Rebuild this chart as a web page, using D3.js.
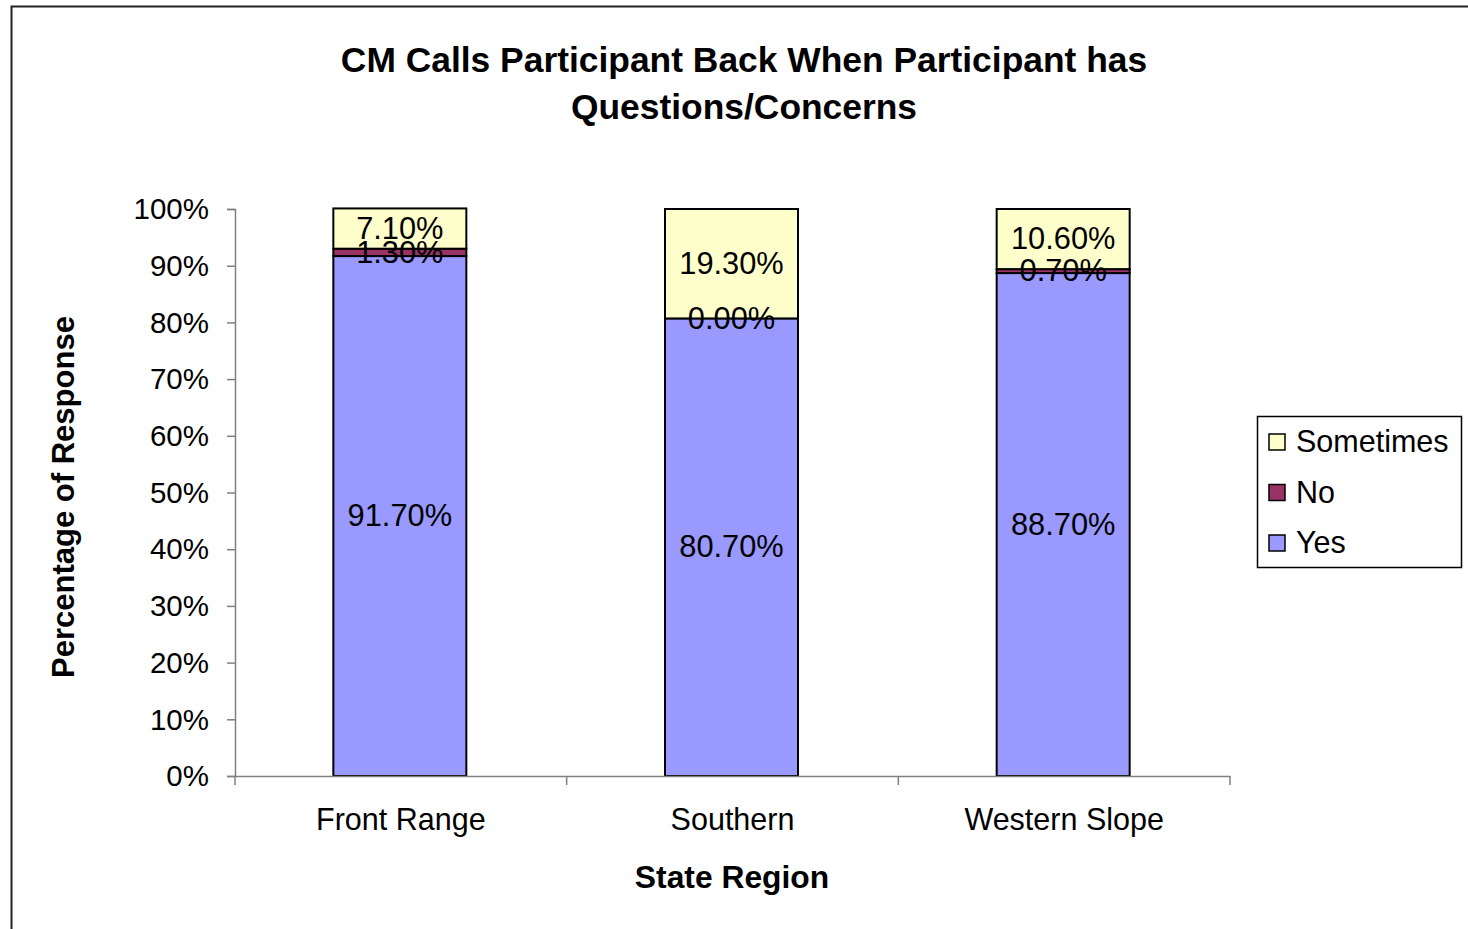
<!DOCTYPE html>
<meta charset="utf-8">
<script src="https://d3js.org/d3.v7.min.js"></script>
<style>
  body { margin: 0; background: #fff; }
  text { font-family: Arial, "Liberation Sans", sans-serif; }
</style>
<div id="chart"></div>
<script>

// data
var regions = ["Front Range", "Southern", "Western Slope"];
var series = ["Yes", "No", "Sometimes"];
var yesVals = [91.7, 80.7, 88.7];
var noVals = [1.3, 0.0, 0.7];
var sometimesVals = [7.1, 19.3, 10.6];
var yTicks = [0, 10, 20, 30, 40, 50, 60, 70, 80, 90, 100];

var colors = {
  "Yes": "#9999FF",
  "No": "#993366",
  "Sometimes": "#FFFFCC"
};

var W = 1468, H = 929;
var margin = {top: 209, left: 235, right: 238, bottom: 153};

var svg = d3.select("#chart").append("svg")
  .attr("width", W)
  .attr("height", H);

// outer frame (runs off the right and bottom)
svg.append("rect")
  .attr("x", 11.5).attr("y", 6.5)
  .attr("width", W + 20).attr("height", H + 20)
  .attr("fill", "none").attr("stroke", "#222").attr("stroke-width", 2);

var x = d3.scaleBand()
  .domain(regions)
  .range([margin.left, W - margin.right])
  .paddingInner(0).paddingOuter(0);

var y = d3.scaleLinear()
  .domain([0, 100])
  .range([H - margin.bottom, margin.top]);

// build table for stacking
var table = regions.map(function(r, i) {
  return {region: r, Yes: yesVals[i], No: noVals[i], Sometimes: sometimesVals[i]};
});
var stacked = d3.stack().keys(series)(table);

// title
svg.append("text")
  .attr("x", 744).attr("y", 72)
  .attr("text-anchor", "middle")
  .attr("font-size", 35.4).attr("font-weight", "bold")
  .text("CM Calls Participant Back When Participant has");
svg.append("text")
  .attr("x", 744).attr("y", 119)
  .attr("text-anchor", "middle")
  .attr("font-size", 35.4).attr("font-weight", "bold")
  .text("Questions/Concerns");

// y axis
var yAxis = svg.append("g")
  .attr("transform", "translate(" + margin.left + ",0)")
  .call(d3.axisLeft(y).tickValues(yTicks).tickSize(8).tickPadding(18)
    .tickFormat(function(d) { return d + "%"; }));
yAxis.select(".domain").attr("stroke", "#808080").attr("stroke-width", 1.5);
yAxis.selectAll(".tick line").attr("stroke", "#808080").attr("stroke-width", 1.5);
yAxis.selectAll(".tick text")
  .attr("font-size", 29.5).attr("fill", "#000")
  .attr("font-family", "Arial, 'Liberation Sans', sans-serif")
  .attr("dy", "0.33em");

// bars
var barW = 133;
var layers = svg.append("g").selectAll("g")
  .data(stacked)
  .join("g")
  .attr("fill", function(d) { return colors[d.key]; });

layers.selectAll("rect")
  .data(function(d) { return d; })
  .join("rect")
  .attr("x", function(d) { return x(d.data.region) + x.bandwidth() / 2 - barW / 2 - 1; })
  .attr("y", function(d) { return y(d[1]); })
  .attr("width", barW)
  .attr("height", function(d) { return y(d[0]) - y(d[1]); })
  .attr("stroke", "#000")
  .attr("stroke-width", 2);

// x axis
var xAxis = svg.append("g")
  .attr("transform", "translate(0," + (H - margin.bottom) + ")")
  .call(d3.axisBottom(x).tickSize(0).tickPadding(32));
xAxis.select(".domain").attr("stroke", "#808080").attr("stroke-width", 1.5);
xAxis.selectAll(".tick text")
  .attr("font-size", 30.5).attr("fill", "#000")
  .attr("font-family", "Arial, 'Liberation Sans', sans-serif");
// tick marks at category boundaries
var bounds = regions.map(function(r) { return x(r); }).concat([x.range()[1]]);
svg.append("g").selectAll("line")
  .data(bounds)
  .join("line")
  .attr("x1", function(d) { return d; }).attr("x2", function(d) { return d; })
  .attr("y1", H - margin.bottom).attr("y2", H - margin.bottom + 9)
  .attr("stroke", "#808080").attr("stroke-width", 1.5);

// data labels, drawn above every bar
var labelData = [];
stacked.forEach(function(s) {
  s.forEach(function(v) { labelData.push({key: s.key, v: v}); });
});
svg.append("g").selectAll("text")
  .data(labelData)
  .join("text")
  .attr("x", function(d) { return x(d.v.data.region) + x.bandwidth() / 2 - 1; })
  .attr("y", function(d) { return (y(d.v[0]) + y(d.v[1])) / 2; })
  .attr("dy", "0.33em")
  .attr("text-anchor", "middle")
  .attr("font-size", 30.8)
  .attr("fill", "#000")
  .text(function(d) { return d.v.data[d.key].toFixed(2) + "%"; });

// axis titles
svg.append("text")
  .attr("x", 732).attr("y", 888)
  .attr("text-anchor", "middle")
  .attr("font-size", 31.8).attr("font-weight", "bold")
  .text("State Region");

svg.append("text")
  .attr("transform", "translate(74,497) rotate(-90)")
  .attr("text-anchor", "middle")
  .attr("font-size", 31).attr("font-weight", "bold")
  .text("Percentage of Response");

// legend
var legend = svg.append("g");
legend.append("rect")
  .attr("x", 1257.5).attr("y", 416.5)
  .attr("width", 204).attr("height", 151)
  .attr("fill", "#fff").attr("stroke", "#000").attr("stroke-width", 1.5);

var legendItems = series.slice().reverse();
var li = legend.selectAll("g.item")
  .data(legendItems)
  .join("g")
  .attr("class", "item")
  .attr("transform", function(d, i) { return "translate(1269," + (442 + i * 50.5) + ")"; });
li.append("rect")
  .attr("x", 0).attr("y", -8)
  .attr("width", 16).attr("height", 16)
  .attr("fill", function(d) { return colors[d]; })
  .attr("stroke", "#000").attr("stroke-width", 1.5);
li.append("text")
  .attr("x", 27).attr("y", 0)
  .attr("dy", "0.33em")
  .attr("font-size", 30.5)
  .attr("fill", "#000")
  .text(function(d) { return d; });

</script>
